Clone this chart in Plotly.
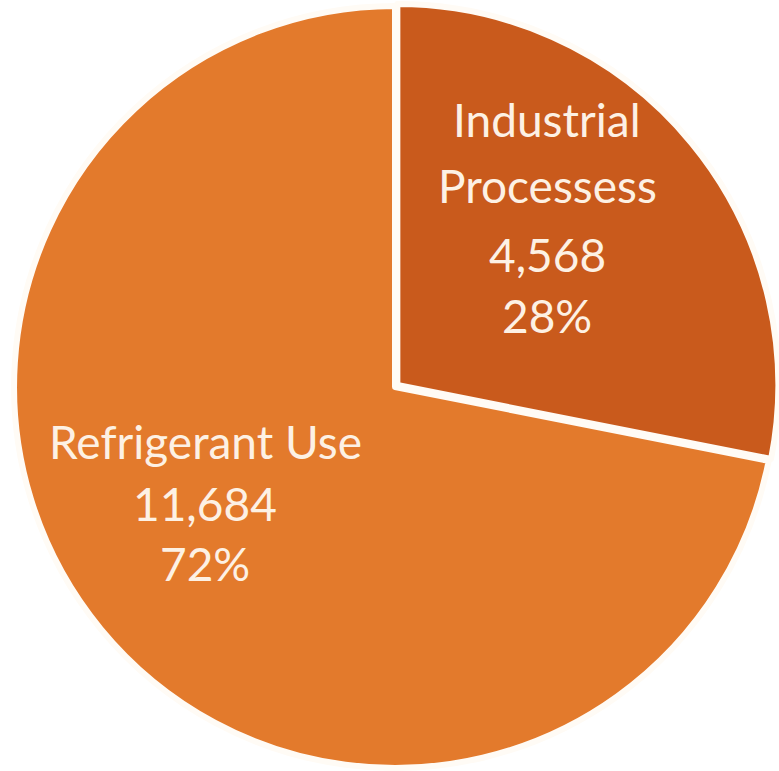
import plotly.graph_objects as go

labels = ["Industrial Processess", "Refrigerant Use"]
label_lines = [["Industrial", "Processess"], ["Refrigerant Use"]]
values = [4568, 11684]
colors = ["#C95A1C", "#E37A2C"]

total = sum(values)
pcts = [round(v / total * 100) for v in values]

W, H = 779, 771
R = 384
cx, cy = 395, 387
fig = go.Figure()
fig.add_trace(go.Pie(
    labels=labels, values=values, sort=False, direction="clockwise", rotation=0,
    marker=dict(colors=colors, line=dict(color="#FFFBF5", width=6)),
    textinfo="none", hoverinfo="label+value+percent", showlegend=False,
    pull=[0.008, 0],
    domain=dict(x=[max(0, (cx - R) / W), min(1, (cx + R) / W)],
                y=[max(0, 1 - (cy + R) / H), min(1, 1 - (cy - R) / H)]),
))

# label layout (pixel centres of each text line)
label_x = [547, 205]
label_y = [[119, 185, 255, 315], [441, 503, 563]]
for i in range(len(values)):
    lines = label_lines[i] + [f"{values[i]:,}", f"{pcts[i]}%"]
    for line, yy in zip(lines, label_y[i]):
        fig.add_annotation(text=line, x=label_x[i] / W, y=1 - yy / H, xref="paper", yref="paper",
                           showarrow=False, xanchor="center", yanchor="middle",
                           font=dict(family="Lato", size=46, color="#FDF1E4"))

fig.update_layout(width=W, height=H, margin=dict(l=0, r=0, t=0, b=0),
                  paper_bgcolor="white", plot_bgcolor="white")
fig.write_html("out.html")
